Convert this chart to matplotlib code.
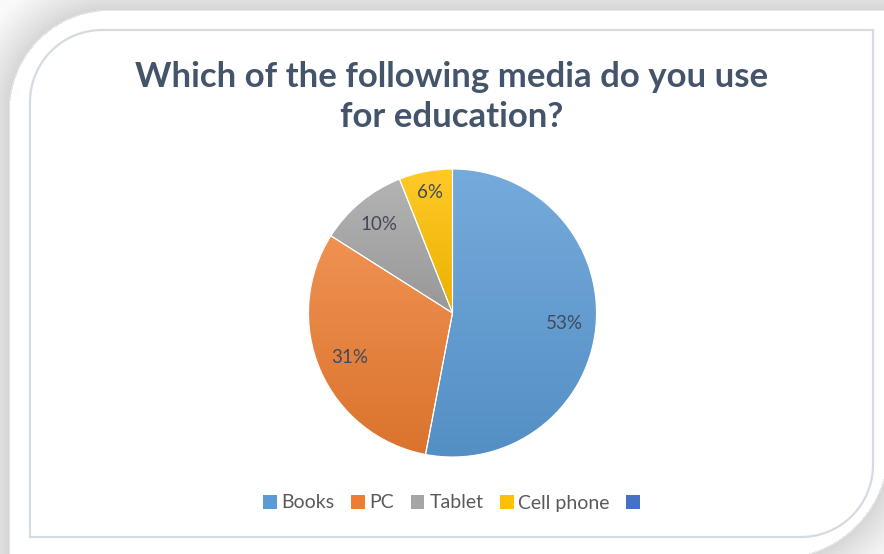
import numpy as np
import matplotlib
matplotlib.use("Agg")
import matplotlib.pyplot as plt
from matplotlib.patches import Patch, PathPatch
from matplotlib.path import Path
from matplotlib.colors import to_rgb

# data
categories = ["Books", "PC", "Tablet", "Cell phone"]
shares = [53, 31, 10, 6]
slice_colors = ["#5B9BD5", "#ED7D31", "#A5A5A5", "#FFC000"]
extra_legend_color = "#4472C4"
title = "Which of the following media do you use\nfor education?"

W, H = 884, 554
fig = plt.figure(figsize=(W / 100, H / 100), dpi=100)
fig.patch.set_facecolor("white")

# ---- background: gray margin with soft shading around a white rounded card
bg = fig.add_axes([0, 0, 1, 1])
bg.axis("off")

yy, xx = np.mgrid[0:H, 0:W] + 0.5
d = np.maximum(10 - xx, 11 - yy)                      # straight edges
r1, c1 = 100, (110, 111)                               # top-left corner
in_c1 = (xx < c1[0]) & (yy < c1[1])
d1 = np.hypot(xx - c1[0], yy - c1[1]) - r1
d = np.where(in_c1, d1, d)
r2, c2 = 110, (778, 448)                               # bottom-right corner
in_c2 = (xx > c2[0]) & (yy > c2[1])
d2 = np.hypot(xx - c2[0], yy - c2[1]) - r2
d = np.where(in_c2, np.maximum(d2, d), d)
shade = np.where(d > 0, 0.83 + 0.15 * np.clip(d / 45, 0, 1) ** 0.8, 1.0)
shade = np.where((d > 0) & (d < 1.5), 0.90, shade)
bg.imshow(np.dstack([shade] * 3), extent=(0, W, H, 0), interpolation="bilinear", zorder=0)


def card_path(x0, y0, x1, y1, r):
    # rectangle with rounded top-left and bottom-right corners
    t = np.linspace(0, np.pi / 2, 30)
    tl = np.column_stack([x0 + r - r * np.cos(t), y0 + r - r * np.sin(t)])
    br = np.column_stack([x1 - r + r * np.cos(t), y1 - r + r * np.sin(t)])
    pts = np.vstack([tl, [[x1, y0]], br, [[x0, y1]], tl[:1]])
    return Path(pts, closed=True)


bg.add_patch(PathPatch(card_path(30, 30, 873, 537, 72), facecolor="white",
                       edgecolor="#D5DBE3", linewidth=1.6, zorder=1))
bg.set_xlim(0, W)
bg.set_ylim(H, 0)

# ---- title
fig.text(452 / W, 1 - 97 / H, title, ha="center", va="center", fontsize=25,
         fontweight="bold", color="#44546A", family="Lato", linespacing=1.3)

# ---- pie with per-slice vertical gradient
cx, cy, R = 452.5, 313, 144
half = 150
ax = fig.add_axes([(cx - half) / W, (H - cy - half) / H, 2 * half / W, 2 * half / H])
ax.axis("off")

wedges, _ = ax.pie(shares, colors=slice_colors, startangle=90, counterclock=False,
                   radius=1, wedgeprops=dict(edgecolor="white", linewidth=0.8))


def shade_color(c, k):
    c = np.array(to_rgb(c))
    return np.clip(c + (1 - c) * k, 0, 1) if k > 0 else c * (1 + k)


for w, col in zip(wedges, slice_colors):
    ext = w.get_path().get_extents()
    top, bot = shade_color(col, 0.16), shade_color(col, -0.08)
    g = np.linspace(0, 1, 256)[:, None, None]
    img = top[None, None, :] * (1 - g) + bot[None, None, :] * g
    im = ax.imshow(img, extent=(ext.x0, ext.x1, ext.y0, ext.y1), origin="upper",
                   aspect="auto", zorder=w.get_zorder() + 0.1, interpolation="bilinear")
    im.set_clip_path(w)
    w.set_facecolor("none")
    w.set_zorder(w.get_zorder() + 0.2)

# percentage labels
label_dist = [0.78, 0.78, 0.80, 0.85]
for w, v, dist in zip(wedges, shares, label_dist):
    ang = np.deg2rad((w.theta1 + w.theta2) / 2)
    ax.text(dist * np.cos(ang), dist * np.sin(ang), f"{v}%", ha="center", va="center",
            fontsize=13.5, color="#404A5A", family="Lato", zorder=5)

lim = half / R
ax.set_xlim(-lim, lim)
ax.set_ylim(-lim, lim)

# ---- legend
handles = [Patch(facecolor=c, edgecolor="none") for c in slice_colors]
handles.append(Patch(facecolor=extra_legend_color, edgecolor="none"))
fig.legend(handles, categories + [""], loc="center", bbox_to_anchor=(454 / W, 1 - 503 / H),
           ncol=5, frameon=False, handlelength=0.7, handleheight=0.7,
           handletextpad=0.25, columnspacing=0.85,
           prop=dict(family="Lato", size=14), labelcolor="#595959")

fig.savefig("out.png", dpi=100)
